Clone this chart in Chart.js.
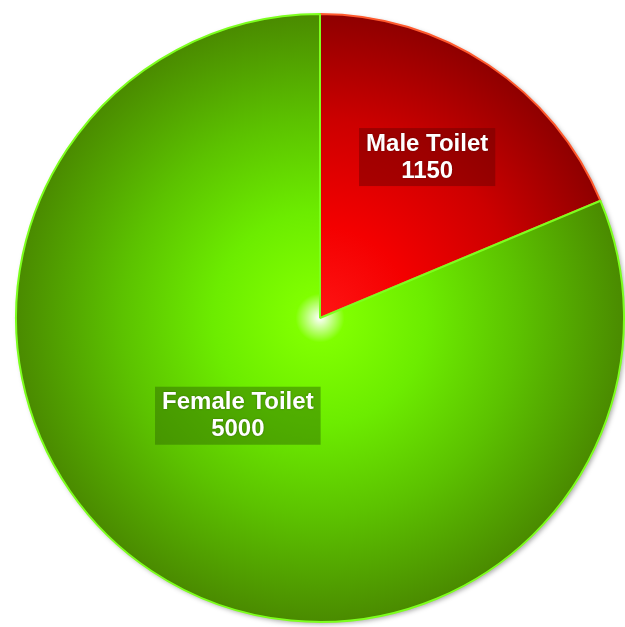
<!DOCTYPE html>
<html>
<head>
<meta charset="utf-8">
<script src="https://cdn.jsdelivr.net/npm/chart.js@4"></script>
<style>
html,body{margin:0;padding:0;background:#fff;}
#wrap{width:625px;height:627px;position:relative;}
</style>
</head>
<body>
<div id="wrap"><canvas id="c" width="625" height="627"></canvas></div>
<script>
const categories = ["Male Toilet", "Female Toilet"];
const values = [1150, 5000];

const gradStops = [
  [[0, "#ff1414"], [0.3, "#f40000"], [0.65, "#cc0000"], [1, "#8e0000"]],
  [[0, "#ffffff"], [0.035, "#c8ff90"], [0.08, "#80ff00"], [0.35, "#6cec00"], [0.65, "#5cc200"], [1, "#4a8a00"]]
];
const borderColors = ["#ff5a2e", "#7dff1e"];
const boxColors = ["rgba(110,0,0,0.5)", "rgba(50,110,0,0.5)"];
const labelPlace = [{r: 0.636, da: 0}, {r: 0.42, da: 6.4}];

function bg(ctx) {
  const chart = ctx.chart;
  const area = chart.chartArea;
  const i = ctx.dataIndex;
  if (!area || !isFinite(area.left) || area.width <= 0) return gradStops[i][2][1];
  const cx = (area.left + area.right) / 2;
  const cy = (area.top + area.bottom) / 2;
  const r = Math.min(area.width, area.height) / 2;
  if (![cx, cy, r].every(isFinite) || r <= 0) return gradStops[i][2][1];
  const g = chart.ctx.createRadialGradient(cx, cy, 0, cx, cy, r);
  gradStops[i].forEach(s => g.addColorStop(s[0], s[1]));
  return g;
}

const shadowPlugin = {
  id: "shadow",
  beforeDatasetsDraw(chart) {
    const arc = chart.getDatasetMeta(0).data[0];
    if (!arc || !isFinite(arc.x) || !isFinite(arc.outerRadius)) return;
    const c = chart.ctx;
    c.save();
    c.shadowColor = "rgba(0,0,0,0.35)";
    c.shadowBlur = 5;
    c.shadowOffsetX = 2;
    c.shadowOffsetY = 2;
    c.beginPath();
    c.arc(arc.x, arc.y, arc.outerRadius, 0, Math.PI * 2);
    c.fillStyle = "#4a8a00";
    c.fill();
    c.restore();
  }
};

const labelPlugin = {
  id: "boxLabels",
  afterDatasetsDraw(chart) {
    const c = chart.ctx;
    const meta = chart.getDatasetMeta(0);
    meta.data.forEach((arc, i) => {
      const mid = (arc.startAngle + arc.endAngle) / 2 + labelPlace[i].da * Math.PI / 180;
      const rr = arc.outerRadius * labelPlace[i].r;
      const x = arc.x + Math.cos(mid) * rr;
      const y = arc.y + Math.sin(mid) * rr;
      if (!isFinite(x) || !isFinite(y)) return;
      const lines = [categories[i], String(values[i])];
      c.save();
      c.font = "bold 24px 'Liberation Sans', Arial, sans-serif";
      const w = Math.max(...lines.map(l => c.measureText(l).width)) + 14;
      const h = 58;
      c.fillStyle = boxColors[i];
      c.fillRect(x - w / 2, y - h / 2, w, h);
      c.fillStyle = "#ffffff";
      c.textAlign = "center";
      c.textBaseline = "middle";
      c.shadowColor = "rgba(0,0,0,0.35)";
      c.shadowBlur = 2;
      c.fillText(lines[0], x, y - 13);
      c.fillText(lines[1], x, y + 14);
      c.restore();
    });
  }
};

new Chart(document.getElementById("c"), {
  type: "pie",
  data: {
    labels: categories,
    datasets: [{
      data: values,
      backgroundColor: bg,
      borderColor: borderColors,
      borderWidth: 2
    }]
  },
  options: {
    responsive: false,
    animation: false,
    layout: {padding: {left: 15, right: 0, top: 13, bottom: 4}},
    plugins: {legend: {display: false}, tooltip: {enabled: false}}
  },
  plugins: [shadowPlugin, labelPlugin]
});
</script>
</body>
</html>
